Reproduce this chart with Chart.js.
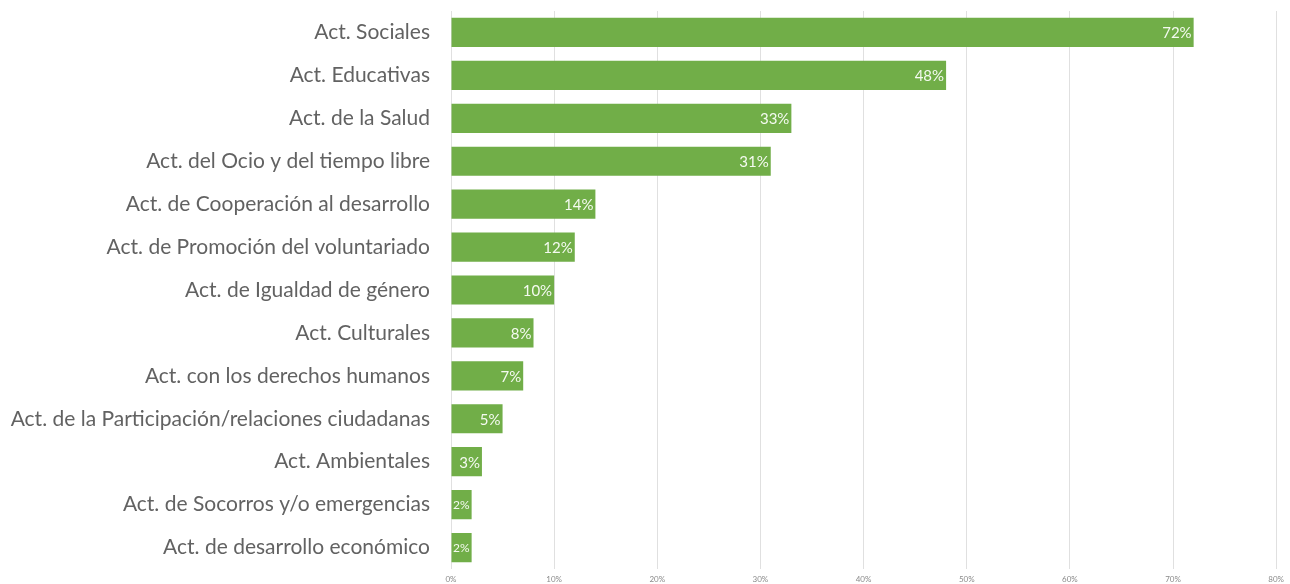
<!DOCTYPE html>
<html>
<head>
<meta charset="utf-8">
<script src="https://cdn.jsdelivr.net/npm/chart.js@4.4.0/dist/chart.umd.min.js"></script>
<style>
  html, body { margin: 0; padding: 0; background: #fff; }
  #wrap { width: 1290px; height: 584px; }
</style>
</head>
<body>
<div id="wrap"><canvas id="grafico"></canvas></div>
<script>
// Porcentaje de entidades por tipo de actividad
const categorias = [
  'Act. Sociales',
  'Act. Educativas',
  'Act. de la Salud',
  'Act. del Ocio y del tiempo libre',
  'Act. de Cooperación al desarrollo',
  'Act. de Promoción del voluntariado',
  'Act. de Igualdad de género',
  'Act. Culturales',
  'Act. con los derechos humanos',
  'Act. de la Participación/relaciones ciudadanas',
  'Act. Ambientales',
  'Act. de Socorros y/o emergencias',
  'Act. de desarrollo económico'
];
const porcentajes = [72, 48, 33, 31, 14, 12, 10, 8, 7, 5, 3, 2, 2];
const ticksX = [0, 10, 20, 30, 40, 50, 60, 70, 80];

const VERDE = '#71AE48';
const FUENTE = "Lato, 'Open Sans', sans-serif";

/* etiqueta de valor dentro del extremo de cada barra */
const etiquetasBarras = {
  id: 'etiquetasBarras',
  afterDatasetsDraw(chart) {
    const { ctx } = chart;
    const meta = chart.getDatasetMeta(0);
    ctx.save();
    ctx.fillStyle = '#f4faf0';
    ctx.textAlign = 'right';
    ctx.textBaseline = 'middle';
    meta.data.forEach((barra, i) => {
      const txt = porcentajes[i] + '%';
      const ancho = barra.x - barra.base;
      let tam = 15;
      ctx.font = tam + 'px ' + FUENTE;
      while (ctx.measureText(txt).width > ancho - 3 && tam > 8) {
        tam -= 1;
        ctx.font = tam + 'px ' + FUENTE;
      }
      ctx.fillText(txt, barra.x - 2, barra.y + 1);
    });
    ctx.restore();
  }
};

new Chart(document.getElementById('grafico'), {
  type: 'bar',
  data: {
    labels: categorias,
    datasets: [{
      data: porcentajes,
      backgroundColor: VERDE,
      borderWidth: 0,
      barPercentage: 0.68,
      categoryPercentage: 1
    }]
  },
  options: {
    indexAxis: 'y',
    responsive: true,
    maintainAspectRatio: false,
    animation: false,
    layout: { padding: { top: 11, right: 7, bottom: 0, left: 0 } },
    plugins: {
      legend: { display: false },
      tooltip: { enabled: false }
    },
    scales: {
      x: {
        min: 0,
        max: 80,
        afterBuildTicks: (eje) => { eje.ticks = ticksX.map(v => ({ value: v })); },
        afterFit: (eje) => { eje.height = 15; },
        grid: { color: '#e0e0e0', drawTicks: false },
        border: { display: false },
        ticks: {
          padding: 6,
          color: '#8a8a8a',
          font: { family: FUENTE, size: 8 },
          callback: (v) => v + '%'
        }
      },
      y: {
        afterFit: (eje) => {
          eje.width = 451;
          eje.paddingTop = 0;
          eje.paddingBottom = 0;
        },
        grid: { display: false },
        border: { display: false },
        ticks: {
          padding: 13,
          color: '#626262',
          font: { family: FUENTE, size: 21 }
        }
      }
    }
  },
  plugins: [etiquetasBarras]
});
</script>
</body>
</html>
